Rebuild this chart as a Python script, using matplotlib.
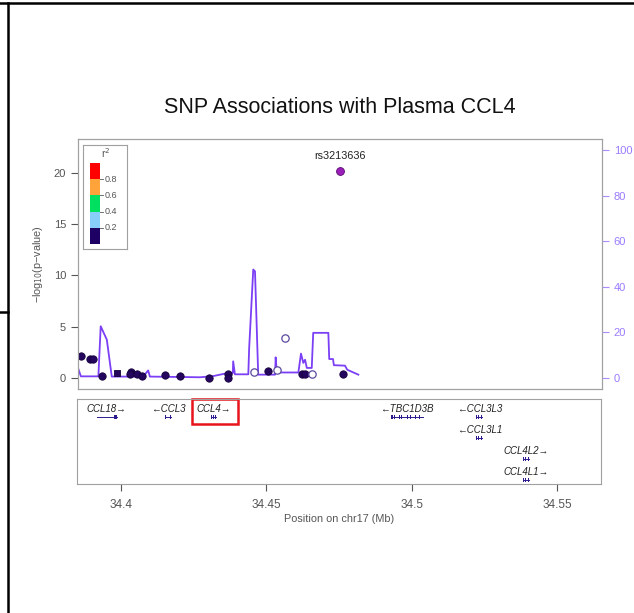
import numpy as np
import matplotlib
matplotlib.use('Agg')
import matplotlib.pyplot as plt
from matplotlib.lines import Line2D
from matplotlib.patches import Rectangle

plt.rcParams['font.family'] = ['Liberation Sans', 'DejaVu Sans']

# SNP association results (position in Mb, -log10 p)
snp_pos = [34.3860, 34.3890, 34.3900, 34.3934, 34.4031, 34.4030, 34.4053,
           34.4070, 34.4148, 34.4200, 34.4300, 34.4365, 34.4365, 34.4504,
           34.4618, 34.4630, 34.4761]
snp_logp = [2.11, 1.85, 1.85, 0.16, 0.58, 0.39, 0.39, 0.16, 0.32, 0.22,
            0.00, 0.39, 0.02, 0.71, 0.39, 0.39, 0.42]

# SNP drawn as a square
sq_pos = [34.3985]
sq_logp = [0.49]

# SNPs with no LD information (open circles)
na_pos = [34.4455, 34.4535, 34.4560, 34.4653]
na_logp = [0.61, 0.81, 3.87, 0.39]

# index SNP
top_snp = 'rs3213636'
top_pos = 34.4750
top_logp = 20.18

# recombination rate (cM/Mb)
recomb_pos = [34.3851, 34.3860, 34.3920, 34.3928, 34.3949, 34.3966, 34.4074,
              34.4091, 34.4097, 34.4269, 34.4314, 34.4338, 34.4366, 34.4382,
              34.4383, 34.4389, 34.4435, 34.4438, 34.4452, 34.4458, 34.4469,
              34.4527, 34.4529, 34.4533, 34.4607, 34.4616, 34.4624, 34.4630,
              34.4636, 34.4653, 34.4658, 34.4710, 34.4713, 34.4726, 34.4729,
              34.4767, 34.4775, 34.4813]
recomb_rate = [4.0, 0.7, 0.7, 22.7, 16.8, 0.6, 0.6,
               3.3, 0.6, 0.3, 0.8, 1.45, 2.2, 2.2,
               7.3, 1.6, 1.6, 13.2, 47.6, 46.8, 1.45,
               1.45, 9.05, 2.4, 2.4, 10.7, 6.6, 8.0,
               4.4, 4.4, 19.8, 19.8, 8.3, 8.3, 5.6,
               5.4, 3.6, 1.45]

# LD legend
ld_breaks = [0.2, 0.4, 0.6, 0.8]
ld_colors = ['#1E0064', '#87CEFA', '#00E060', '#FFA33A', '#FF0000']

# genes
gene_names = ['CCL18', 'CCL3', 'CCL4', 'TBC1D3B', 'CCL3L3', 'CCL3L1', 'CCL4L2', 'CCL4L1']
gene_start = [34.3917, 34.4154, 34.4310, 34.4929, 34.5221, 34.5221, 34.5381, 34.5381]
gene_end = [34.3987, 34.4172, 34.4328, 34.5040, 34.5242, 34.5242, 34.5402, 34.5402]
gene_strand = ['+', '-', '+', '-', '-', '-', '+', '+']
gene_row = [1, 1, 1, 1, 1, 2, 3, 4]
gene_exons = [
    [(34.3917, 34.3919), (34.3978, 34.3987)],
    [(34.4154, 34.4157), (34.4161, 34.4164), (34.4169, 34.4172)],
    [(34.4310, 34.4313), (34.4317, 34.4320), (34.4325, 34.4328)],
    [(34.4929, 34.4935), (34.4940, 34.4942), (34.4948, 34.4950), (34.4956, 34.4958),
     (34.4963, 34.4966), (34.4972, 34.4974), (34.4985, 34.4988), (34.4995, 34.4998),
     (34.5010, 34.5013), (34.5025, 34.5027), (34.5038, 34.5040)],
    [(34.5221, 34.5224), (34.5229, 34.5232), (34.5239, 34.5242)],
    [(34.5221, 34.5224), (34.5229, 34.5232), (34.5239, 34.5242)],
    [(34.5381, 34.5384), (34.5389, 34.5392), (34.5399, 34.5402)],
    [(34.5381, 34.5384), (34.5389, 34.5392), (34.5399, 34.5402)],
]
x_ticks = [34.4, 34.45, 34.5, 34.55]

W, H = 634, 613
fig = plt.figure(figsize=(W / 100, H / 100), dpi=100)

def box(x0, y0, x1, y1):
    # pixel box (top-left origin) -> figure fraction
    return [x0 / W, (H - y1) / H, (x1 - x0) / W, (y1 - y0) / H]

frame_col = '#A0A0A0'
tick_col = '#555555'
recomb_col = '#7B3FF5'
recomb_tick = '#A98BFF'
navy = '#24065F'

ax = fig.add_axes(box(78, 139, 602, 389))
ax2 = ax.twinx()
ax.set_zorder(ax2.get_zorder() + 1)
ax.patch.set_visible(False)

ax2.plot(recomb_pos, recomb_rate, color=recomb_col, lw=1.3)
ax2.set_ylim(-4.85, 104.9)
ax2.set_yticks([0, 20, 40, 60, 80, 100])
ax2.tick_params(axis='y', colors=recomb_tick, labelsize=8, length=5, width=0.8)
for t in ax2.get_yticklabels():
    t.set_color('#9B7BFF')

ax.scatter(snp_pos, snp_logp, s=28, color=navy, edgecolor='#140038', lw=0.6)
ax.scatter(sq_pos, sq_logp, s=24, marker='s', color=navy, edgecolor='#140038', lw=0.6)
ax.scatter(na_pos, na_logp, s=28, facecolor='white', edgecolor='#5B4A9E', lw=0.9)
ax.scatter([top_pos], [top_logp], s=32, color='#9A1FB8', edgecolor='#5A0A70', lw=0.6)
ax.text(top_pos, top_logp + 1.0, top_snp, ha='center', va='bottom', fontsize=7.8, color='#222222')

ax.set_xlim(34.385, 34.565)
ax.set_ylim(-1.07, 23.3)
ax.set_yticks([0, 5, 10, 15, 20])
ax.set_xticks([])
ax.tick_params(axis='y', colors=tick_col, labelsize=8, length=5, width=0.8)
ax.set_ylabel('\u2212log$_{10}$(p\u2212value)', fontsize=7.8, color=tick_col, labelpad=6)
for a in (ax, ax2):
    for s in a.spines.values():
        s.set_color(frame_col)
        s.set_linewidth(0.8)

ax.set_title('SNP Associations with Plasma CCL4', fontsize=15.5, pad=18.7, color='#111111')

# LD legend box
lg = fig.add_axes(box(83, 145, 127, 249))
lg.set_xlim(0, 1)
lg.set_ylim(0, 1)
lg.set_xticks([])
lg.set_yticks([])
for s in lg.spines.values():
    s.set_color(frame_col)
    s.set_linewidth(0.8)
seg = 0.156
y0 = 0.048
for i, c in enumerate(ld_colors):
    lg.bar(0.275, seg, width=0.23, bottom=y0 + i * seg, color=c, edgecolor='none')
for i, b in enumerate(ld_breaks):
    yb = y0 + (i + 1) * seg
    lg.plot([0.39, 0.46], [yb, yb], color=tick_col, lw=0.6)
    lg.text(0.5, yb, '%.1f' % b, fontsize=6.5, va='center', ha='left', color=tick_col)
lg.text(0.52, 0.925, 'r$^2$', fontsize=7.5, ha='center', va='center', color=tick_col)

# gene track
gx = fig.add_axes(box(77, 399, 601, 484))
gx.set_xlim(34.385, 34.565)
gx.set_ylim(4.19, 0.16)
gx.set_yticks([])
gx.set_xticks(x_ticks)
gx.set_xticklabels(['34.4', '34.45', '34.5', '34.55'])
gx.tick_params(axis='x', colors=tick_col, labelsize=8.5, length=5, width=0.8, pad=6)
for s in gx.spines.values():
    s.set_color(frame_col)
    s.set_linewidth(0.8)
gx.set_xlabel('Position on chr17 (Mb)', fontsize=7.8, color=tick_col, labelpad=2)

gene_col = '#2B1B8F'
for name, g0, g1, strand, row, exons in zip(gene_names, gene_start, gene_end,
                                              gene_strand, gene_row, gene_exons):
    gx.plot([g0, g1], [row, row], color=gene_col, lw=0.7)
    gx.broken_barh([(e0, e1 - e0) for e0, e1 in exons], (row - 0.09, 0.18),
                   facecolor=gene_col, edgecolor='none')
    label = name + '\u2192' if strand == '+' else '\u2190' + name
    gx.text((g0 + g1) / 2, row - 0.38, label, ha='center', va='center',
            fontsize=7, style='italic', color='#222222')

# highlight box around CCL4
gx.add_patch(Rectangle((34.4245, 0.16), 34.4402 - 34.4245, 1.2,
                       fill=False, edgecolor='#E8141B', lw=1.8, clip_on=False))

# page border lines
for (xa, xb, ya, yb) in [(0, W, 2.5, 2.5), (7.5, 7.5, 2.5, H), (0, 7.5, 312, 312)]:
    fig.add_artist(Line2D([xa / W, xb / W], [1 - ya / H, 1 - yb / H],
                          color='black', lw=1.8, transform=fig.transFigure))

fig.savefig('out.png', dpi=100)
